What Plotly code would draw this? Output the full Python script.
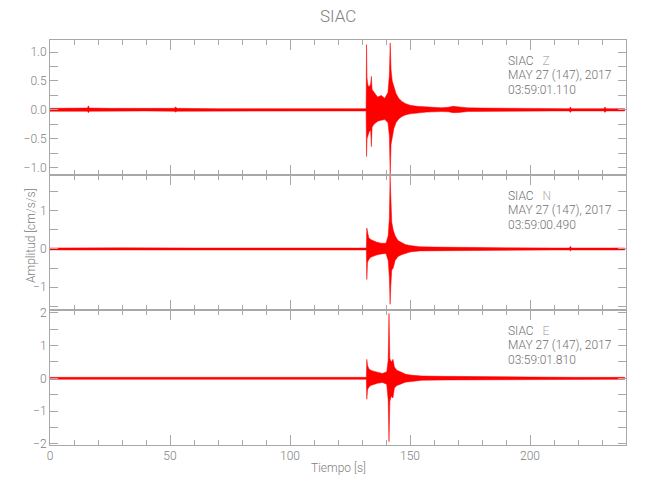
import plotly.graph_objects as go
from plotly.subplots import make_subplots

# ---- Data (envelope of each trace: time [s], upper, lower) ----
t_z = [0, 6, 12, 15.6, 16.0, 16.4, 25, 40, 51.8, 52.2, 53, 70, 90, 110, 125,
       131.7, 131.9, 132.1, 132.5, 133.0, 133.6, 133.9, 134.2, 135.0, 136.5,
       138.0, 139.5, 140.8, 141.4, 141.75, 142.1, 142.6, 143.3, 144.2, 145.3,
       146.5, 148, 150, 153, 157, 163, 166, 168, 170.5, 174, 180, 190, 200,
       210, 216.4, 216.8, 217.3, 225, 230.8, 231.2, 231.8, 239.5]
up_z = [0.025, 0.03, 0.025, 0.03, 0.07, 0.03, 0.025, 0.02, 0.025, 0.05, 0.025, 0.02, 0.02, 0.02, 0.02,
        0.02, 1.13, 0.55, 0.42, 0.40, 0.45, 0.58, 0.35, 0.30, 0.22,
        0.25, 0.20, 0.30, 0.60, 1.16, 0.70, 0.50, 0.40, 0.28, 0.20,
        0.15, 0.11, 0.08, 0.06, 0.045, 0.035, 0.045, 0.06, 0.05, 0.035, 0.03, 0.025, 0.02,
        0.02, 0.02, 0.05, 0.02, 0.02, 0.02, 0.05, 0.02, 0.02]
lo_z = [-0.025, -0.03, -0.025, -0.025, -0.05, -0.025, -0.025, -0.02, -0.025, -0.04, -0.025, -0.02, -0.02, -0.02, -0.02,
        -0.02, -0.81, -0.50, -0.45, -0.38, -0.35, -0.64, -0.30, -0.25, -0.20,
        -0.18, -0.17, -0.22, -0.45, -1.13, -0.60, -0.45, -0.32, -0.22, -0.16,
        -0.12, -0.09, -0.07, -0.05, -0.04, -0.03, -0.035, -0.05, -0.045, -0.03, -0.025, -0.02, -0.02,
        -0.02, -0.02, -0.045, -0.02, -0.02, -0.02, -0.045, -0.02, -0.02]

t_n = [0, 10, 20, 30, 60, 90, 120, 131.8, 132.0, 132.3, 132.8, 133.6, 134.5,
       136, 138, 140, 140.9, 141.4, 141.7, 142.0, 142.4, 143.0, 143.8, 145,
       146.5, 148, 150, 154, 160, 170, 190, 210, 216.4, 216.8, 217.3, 230, 239.5]
up_n = [0.025, 0.03, 0.035, 0.03, 0.025, 0.025, 0.025, 0.025, 0.55, 0.40, 0.30, 0.25, 0.22,
        0.18, 0.15, 0.15, 0.35, 0.80, 1.92, 1.10, 0.70, 0.50, 0.35, 0.22,
        0.17, 0.12, 0.09, 0.06, 0.05, 0.04, 0.03, 0.025, 0.025, 0.07, 0.025, 0.025, 0.025]
lo_n = [-0.025, -0.03, -0.03, -0.025, -0.025, -0.025, -0.025, -0.025, -0.80, -0.35, -0.28, -0.22, -0.20,
        -0.16, -0.13, -0.12, -0.30, -0.75, -1.45, -0.98, -0.55, -0.50, -0.30, -0.20,
        -0.15, -0.11, -0.08, -0.05, -0.04, -0.035, -0.03, -0.025, -0.025, -0.05, -0.025, -0.025, -0.025]

t_e = [0, 10, 20, 50, 90, 120, 131.8, 132.0, 132.3, 132.8, 133.6, 134.8, 136.5,
       138.5, 140.3, 140.9, 141.25, 141.6, 142.2, 142.9, 143.5, 144.5, 146,
       148, 150, 155, 165, 180, 190, 200, 220, 239.5]
up_e = [0.03, 0.035, 0.03, 0.03, 0.03, 0.03, 0.03, 0.58, 0.40, 0.30, 0.25, 0.22, 0.18,
        0.15, 0.20, 0.55, 1.99, 0.60, 0.50, 0.58, 0.35, 0.25, 0.20,
        0.13, 0.10, 0.07, 0.06, 0.06, 0.05, 0.04, 0.03, 0.03]
lo_e = [-0.03, -0.03, -0.03, -0.03, -0.03, -0.03, -0.03, -0.64, -0.35, -0.28, -0.22, -0.18, -0.15,
        -0.13, -0.18, -0.66, -1.94, -0.70, -0.55, -0.60, -0.30, -0.22, -0.18,
        -0.12, -0.09, -0.06, -0.05, -0.05, -0.04, -0.03, -0.03, -0.03]

components = ["Z", "N", "E"]
start_times = ["03:59:01.110", "03:59:00.490", "03:59:01.810"]
station = "SIAC"
date_label = "MAY 27 (147), 2017"
title = "SIAC"
x_title = "Tiempo [s]"
y_title = "Amplitud [cm/s/s]"

# ---- Figure ----
W, H = 650, 500
L, R, T, B = 50, 24, 40, 55
PW, PH = W - L - R, H - T - B

traces = [(t_z, up_z, lo_z), (t_n, up_n, lo_n), (t_e, up_e, lo_e)]
y_ranges = [[-1.13, 1.21], [-1.60, 1.94], [-2.04, 2.09]]
y_dticks = [(0.5, 0.25, ".1f"), (1, 0.5, ""), (1, 0.5, "")]

fig = make_subplots(rows=3, cols=1, shared_xaxes=True, vertical_spacing=0)

RED = "#ff0000"
for i, (t, up, lo) in enumerate(traces):
    xs = list(t) + list(t)[::-1]
    ys = list(up) + list(lo)[::-1]
    fig.add_trace(go.Scatter(x=xs, y=ys, mode="lines", fill="toself",
                             fillcolor=RED, line=dict(color=RED, width=0.5),
                             hoverinfo="skip", showlegend=False), row=i + 1, col=1)

AX = "#a8a8a8"
FONT = "Roboto, Liberation Sans, sans-serif"
TXT = "#808080"
TICKFONT = dict(family=FONT, size=12, color=TXT, weight=300)

for i in range(3):
    fig.update_xaxes(row=i + 1, col=1, range=[0, 240], tick0=0, dtick=50,
                     ticks="inside", ticklen=10, tickcolor=AX, tickwidth=1,
                     minor=dict(dtick=10, ticks="inside", ticklen=5, tickcolor=AX),
                     showline=True, linecolor=AX, linewidth=1, mirror="ticks",
                     showgrid=False, zeroline=False, automargin=False,
                     tickfont=TICKFONT, showticklabels=(i == 2))
    d, md, fmt = y_dticks[i]
    fig.update_yaxes(row=i + 1, col=1, range=y_ranges[i], tick0=0, dtick=d,
                     tickformat=fmt, automargin=False, tickfont=TICKFONT,
                     ticks="inside", ticklen=8, tickcolor=AX, tickwidth=1,
                     minor=dict(dtick=md, ticks="inside", ticklen=8, tickcolor=AX),
                     showline=True, linecolor=AX, linewidth=1, mirror="ticks",
                     showgrid=False, zeroline=False)

annotations = []
panel_h = PH / 3
for i in range(3):
    top_px = T + i * panel_h
    lines = [station + "\u00a0\u00a0\u00a0<span style='color:#b0b0b0'>" + components[i] + "</span>",
             date_label, start_times[i]]
    for k, off in enumerate([21, 35, 49.5]):
        ypx = top_px + off
        annotations.append(dict(text=lines[k], xref="paper", yref="paper",
                                x=(506 - L) / PW, y=(H - B - ypx) / PH,
                                xanchor="left", yanchor="middle", showarrow=False,
                                font=dict(size=12, color="#707070", family=FONT, weight=300)))

annotations.append(dict(text=title, xref="paper", yref="paper", x=0.5,
                        y=(H - B - 16) / PH, xanchor="center", yanchor="middle",
                        showarrow=False, font=dict(size=17, color=TXT, family=FONT, weight=300)))
annotations.append(dict(text=x_title, xref="paper", yref="paper", x=0.5,
                        y=(H - B - 468) / PH, xanchor="center", yanchor="middle",
                        showarrow=False, font=dict(size=12, color=TXT, family=FONT, weight=300)))
annotations.append(dict(text=y_title, xref="paper", yref="paper", x=(31 - L) / PW,
                        y=(H - B - 236) / PH, xanchor="center", yanchor="middle",
                        textangle=-90, showarrow=False,
                        font=dict(size=12, color=TXT, family=FONT, weight=300)))

fig.update_layout(width=W, height=H, margin=dict(l=L, r=R, t=T, b=B, autoexpand=False),
                  paper_bgcolor="white", plot_bgcolor="white",
                  font=dict(family=FONT, size=12, color=TXT),
                  annotations=annotations, showlegend=False)

fig.write_html("out.html", config={"displayModeBar": False},
               post_script="document.body.style.margin='0';document.body.style.padding='0';")
